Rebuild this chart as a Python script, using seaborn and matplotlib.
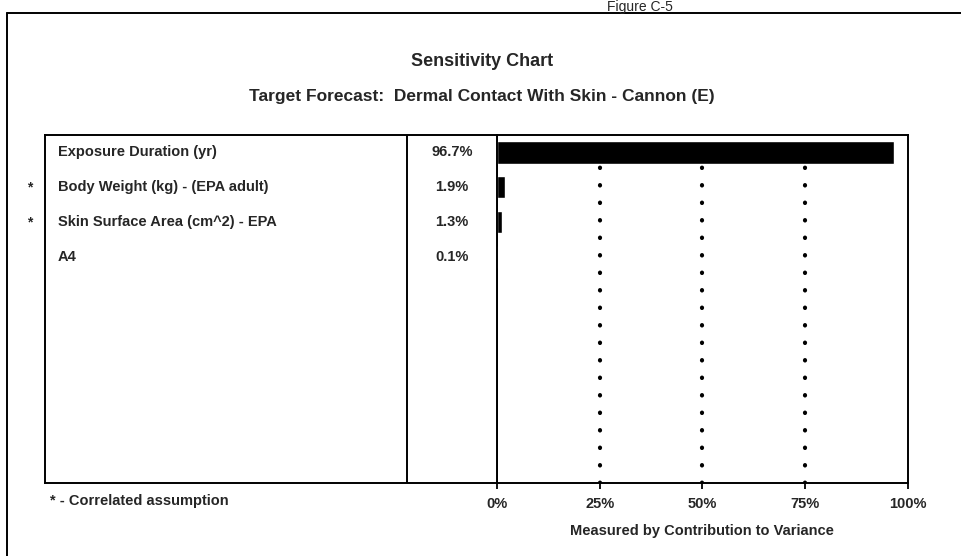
import pandas as pd
import matplotlib.pyplot as plt
from matplotlib.lines import Line2D
import seaborn as sns

# sensitivity chart data
params = ["Exposure Duration (yr)", "Body Weight (kg) - (EPA adult)",
          "Skin Surface Area (cm^2) - EPA", "A4"]
contrib = [96.7, 1.9, 1.3, 0.1]
correlated = [False, True, True, False]
pct_labels = ["96.7%", "1.9%", "1.3%", "0.1%"]
xticks = [0, 25, 50, 75, 100]
xtick_labels = ["0%", "25%", "50%", "75%", "100%"]
n_rows = 10

df = pd.DataFrame({"param": params, "contrib": contrib})

sns.set_theme(style="white")
plt.rcParams["font.family"] = ["Liberation Sans", "DejaVu Sans"]
plt.rcParams["font.weight"] = "bold"

W, H = 962, 556
fig = plt.figure(figsize=(W / 100, H / 100), dpi=100)

top, bottom = 135, 483
x0, x_div, x_zero, x_end = 45, 407, 497, 908

ax = fig.add_axes([x_zero / W, 1 - bottom / H, (x_end - x_zero) / W, (bottom - top) / H])
lab = fig.add_axes([x0 / W, 1 - bottom / H, (x_zero - x0) / W, (bottom - top) / H], sharey=ax)

# ---------------- bars ----------------
sns.barplot(data=df, x="contrib", y="param", order=params, color="black",
            width=0.64, orient="h", ax=ax, zorder=3)
for v in [25, 50, 75]:
    ax.axvline(v, color="black", lw=3.0, linestyle=(0, (0.1, 4.1)),
               dash_capstyle="round", zorder=1)
ax.set_xlim(0, 100)
ax.set_ylim(n_rows - 0.5, -0.5)
ax.set_xticks(xticks)
ax.set_xticklabels(xtick_labels, fontsize=10.5, fontweight="bold")
ax.tick_params(axis="x", bottom=True, length=4, width=1.3, pad=6, color="black")
ax.tick_params(axis="y", left=False, labelleft=False)
ax.set_xlabel("")
ax.set_ylabel("")
for s in ax.spines.values():
    s.set_color("black")
    s.set_linewidth(1.4)
ax.set_facecolor("none")

# ---------------- label table ----------------
lab.set_xlim(0, 1)
lab.set_xticks([])
lab.tick_params(axis="y", left=False, labelleft=False)
for s in lab.spines.values():
    s.set_color("black")
    s.set_linewidth(1.4)
div = (x_div - x0) / (x_zero - x0)
lab.axvline(div, color="black", lw=1.4)
for i, (p, pl, c) in enumerate(zip(params, pct_labels, correlated)):
    lab.text(0.028, i, p, va="center", ha="left", fontsize=10.5, fontweight="bold")
    lab.text((div + 1) / 2, i, pl, va="center", ha="center", fontsize=10.5,
             fontweight="bold")
    if c:
        lab.text(-0.033, i, "*", va="center", ha="center", fontsize=10,
                 fontweight="bold", clip_on=False)

# ---------------- titles / notes ----------------
fig.text(640 / W, 1.0, "Figure C-5", ha="center", va="top",
         fontsize=10, fontweight="normal")
fig.text(482 / W, 1 - 62 / H, "Sensitivity Chart", ha="center", va="center",
         fontsize=13, fontweight="bold")
fig.text(482 / W, 1 - 96 / H, "Target Forecast:  Dermal Contact With Skin - Cannon (E)",
         ha="center", va="center", fontsize=12.5, fontweight="bold")
fig.text(50 / W, 1 - 501 / H, "* - Correlated assumption", ha="left", va="center",
         fontsize=10.5, fontweight="bold")
fig.text(702 / W, 1 - 531 / H, "Measured by Contribution to Variance", ha="center",
         va="center", fontsize=10.5, fontweight="bold")

# outer frame
fig.add_artist(Line2D([7 / W, 1], [1 - 13 / H, 1 - 13 / H], color="black", lw=1.4))
fig.add_artist(Line2D([7 / W, 7 / W], [0, 1 - 13 / H], color="black", lw=1.4))

fig.savefig("out.png", dpi=100, facecolor="white")
